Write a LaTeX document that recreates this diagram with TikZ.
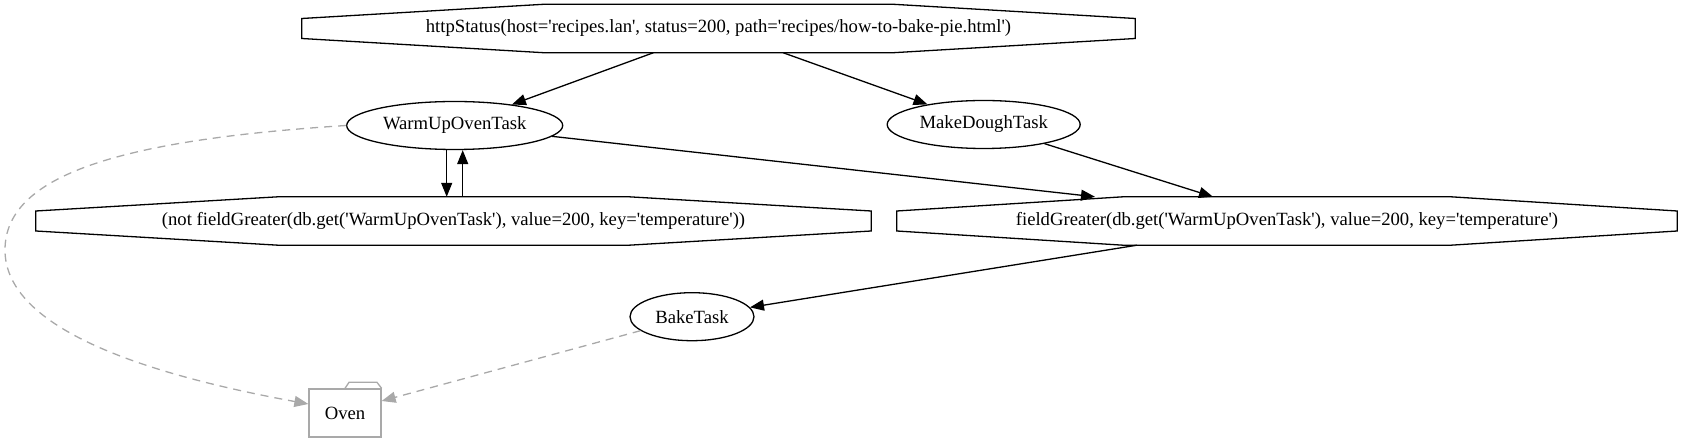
\documentclass[tikz,border=0pt]{standalone}
\usepackage{fontspec}
\setmainfont{Liberation Serif}
\usepackage{xcolor}
\usepackage{tikz}
\usetikzlibrary{arrows.meta, positioning, calc, shapes.geometric}
\definecolor{depgray}{RGB}{169,169,169}
\newcommand{\squote}{\textquotesingle}

\begin{document}
\begin{tikzpicture}[
  x=1pt, y=-1pt,
  arrow/.style={-{Triangle[length=14pt, width=11pt]}, line width=1.3pt},
  deparrow/.style={-{Triangle[length=14pt, width=11pt]}, line width=1.3pt, depgray, dash pattern=on 8pt off 6pt},
  task/.style={ellipse, draw, line width=1.3pt, minimum height=48pt, inner sep=0pt, font=\fontsize{18.67}{22}\selectfont},
  cond/.style={rectangle, minimum height=48pt, inner sep=0pt, font=\fontsize{18.67}{22}\selectfont},
  octline/.style={line width=1.3pt, line join=miter},
  resource/.style={rectangle, draw=depgray, line width=1.3pt, minimum width=72pt, minimum height=48pt, inner sep=0pt, font=\fontsize{18.67}{22}\selectfont}
]
\useasboundingbox (0,0) rectangle (1682,443);
\node[cond, minimum width=833pt] (http) at (718.5,28.5) {httpStatus(host=\squote recipes.lan\squote, status=200, path=\squote recipes/how-to-bake-pie.html\squote)};
\node[task, minimum width=216pt] (warmup) at (454.7,125.5) {WarmUpOvenTask};
\node[task, minimum width=193pt] (dough) at (983.7,124.5) {MakeDoughTask};
\node[cond, minimum width=835pt] (notgreater) at (453.5,221) {(not fieldGreater(db.get(\squote WarmUpOvenTask\squote), value=200, key=\squote temperature\squote))};
\node[cond, minimum width=780pt] (greater) at (1287,221) {fieldGreater(db.get(\squote WarmUpOvenTask\squote), value=200, key=\squote temperature\squote)};
\node[task, minimum width=124pt] (bake) at (692,316.7) {BakeTask};
\node[resource] (oven) at (345,413) {Oven};
% octagon outlines
\foreach \n in {http,notgreater,greater}
  \draw[octline] ($(\n.north west)!0.29!(\n.north east)$) -- ($(\n.north west)!0.71!(\n.north east)$)
    -- ($(\n.east)+(0,-10)$) -- ($(\n.east)+(0,10)$)
    -- ($(\n.south west)!0.71!(\n.south east)$) -- ($(\n.south west)!0.29!(\n.south east)$)
    -- ($(\n.west)+(0,10)$) -- ($(\n.west)+(0,-10)$) -- cycle;
% folder tab
\draw[depgray, line width=1.3pt, line join=miter] (oven.north) -- ++(4,-6) -- ++(28,0) -- (oven.north east);
\draw[arrow] ([xshift=-65pt]http.south) -- (warmup);
\draw[arrow] ([xshift=64.5pt]http.south) -- (dough);
\draw[arrow] ([xshift=-8pt]warmup.south) -- ([xshift=-8pt]warmup.south |- notgreater.north);
\draw[arrow] ([xshift=8pt]warmup.south |- notgreater.north) -- ([xshift=8pt]warmup.south);
\draw[arrow] (warmup) -- ([xshift=-192pt]greater.north);
\draw[arrow] (dough) -- ([xshift=-74pt]greater.north);
\draw[arrow] ([xshift=-150pt]greater.south) -- (bake);
\draw[deparrow] (bake) -- ([yshift=12pt]oven.east);
\draw[deparrow] (warmup.west) .. controls (120,140) and (5,175) .. (5,250) .. controls (5,330) and (150,375) .. ([yshift=9pt]oven.west);
\end{tikzpicture}
\end{document}
